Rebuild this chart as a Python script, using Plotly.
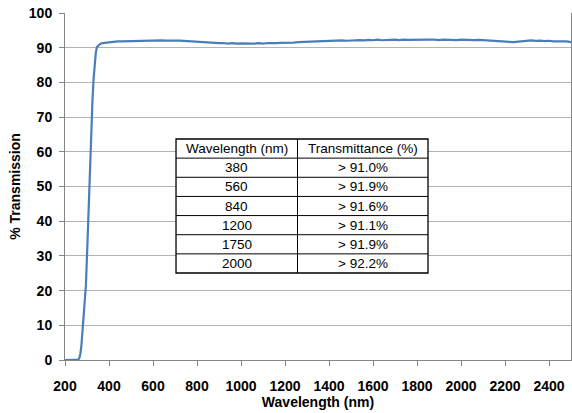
import plotly.graph_objects as go

wavelength = [200, 210, 220, 230, 240, 250, 260, 265, 270, 275, 280, 285, 290, 295, 300,
              305, 310, 315, 320, 325, 330, 335, 340, 345, 350, 355, 360, 370, 380, 400,
              420, 440, 460, 480, 500, 520, 540, 560, 580, 600, 620, 640, 660, 680, 700,
              720, 740, 760, 780, 800, 820, 840, 860, 880, 900, 920, 940, 960, 980, 1000,
              1020, 1040, 1060, 1080, 1100, 1120, 1140, 1160, 1180, 1200, 1220, 1240, 1260,
              1280, 1300, 1320, 1340, 1360, 1380, 1400, 1420, 1440, 1460, 1480, 1500, 1520,
              1540, 1560, 1580, 1600, 1620, 1640, 1660, 1680, 1700, 1720, 1740, 1760, 1780,
              1800, 1820, 1840, 1860, 1880, 1900, 1920, 1940, 1960, 1980, 2000, 2020, 2040,
              2060, 2080, 2100, 2120, 2140, 2160, 2180, 2200, 2220, 2240, 2260, 2280, 2300,
              2320, 2340, 2360, 2380, 2400, 2420, 2440, 2460, 2480, 2500]

transmission = [0.0, 0.0, 0.0, 0.0, 0.0, 0.0, 0.1, 0.5, 1.8, 4.5, 8.5, 13.0, 16.5, 21.5, 30.0,
                40.0, 50.0, 60.0, 68.0, 75.0, 81.0, 85.5, 88.5, 90.2, 90.6, 90.9, 91.1, 91.3, 91.4, 91.6,
                91.7, 91.8, 91.85, 91.9, 91.95, 92.0, 92.0, 92.05, 92.0, 92.1, 92.05, 92.1, 92.05, 92.1, 92.0,
                92.05, 91.95, 91.85, 91.75, 91.65, 91.55, 91.6, 91.4, 91.45, 91.3, 91.35, 91.2, 91.3, 91.15, 91.25,
                91.2, 91.3, 91.15, 91.3, 91.2, 91.35, 91.25, 91.3, 91.4, 91.35, 91.5, 91.45, 91.6,
                91.65, 91.75, 91.8, 91.9, 91.85, 92.0, 91.95, 92.05, 91.95, 92.1, 92.0, 92.1, 92.05,
                92.2, 92.1, 92.25, 92.15, 92.3, 92.15, 92.25, 92.2, 92.3, 92.2, 92.35, 92.25, 92.3,
                92.2, 92.4, 92.25, 92.35, 92.3, 92.2, 92.35, 92.25, 92.3, 92.2, 92.35, 92.25, 92.3,
                92.2, 92.25, 92.15, 92.1, 92.0, 91.85, 91.7, 91.6, 91.55, 91.6, 91.75, 91.9, 92.0,
                92.1, 91.95, 92.05, 91.9, 92.0, 91.85, 91.9, 91.75, 91.8, 91.6]

table_wavelengths = ["380", "560", "840", "1200", "1750", "2000"]
table_transmittance = ["> 91.0%", "> 91.9%", "> 91.6%", "> 91.1%", "> 91.9%", "> 92.2%"]
table_headers = ["Wavelength (nm)", "Transmittance (%)"]

x_ticks = list(range(200, 2501, 200))
y_ticks = list(range(0, 101, 10))

fig = go.Figure()

fig.add_trace(go.Scatter(
    x=wavelength, y=transmission, mode="lines",
    line=dict(color="#4a7ebb", width=2.2),
    showlegend=False, hoverinfo="skip",
))

# Table overlay (paper coordinates of the plotting area)
tx0, tx1, tdiv = 0.2194, 0.7174, 0.4595
ty_top, ty_bot = 0.6369, 0.2507
rows = [table_headers] + [[w, t] for w, t in zip(table_wavelengths, table_transmittance)]
n_rows = len(rows)
row_h = (ty_top - ty_bot) / n_rows

shapes = [dict(type="rect", xref="paper", yref="paper", x0=tx0, x1=tx1, y0=ty_bot, y1=ty_top,
               fillcolor="white", line=dict(color="black", width=1.3), layer="above")]
for i in range(1, n_rows):
    y = ty_top - i * row_h
    shapes.append(dict(type="line", xref="paper", yref="paper", x0=tx0, x1=tx1, y0=y, y1=y,
                       line=dict(color="black", width=1), layer="above"))
shapes.append(dict(type="line", xref="paper", yref="paper", x0=tdiv, x1=tdiv, y0=ty_bot, y1=ty_top,
                   line=dict(color="black", width=1), layer="above"))

annotations = []
table_font = dict(family="Liberation Sans, Arial", size=13.5, color="black")
for i, row in enumerate(rows):
    yc = ty_top - (i + 0.5) * row_h
    for xc, txt in zip([(tx0 + tdiv) / 2, (tdiv + tx1) / 2], row):
        annotations.append(dict(xref="paper", yref="paper", x=xc, y=yc, text=txt,
                                showarrow=False, xanchor="center", yanchor="middle",
                                font=table_font))

tick_font = dict(family="Liberation Sans, Arial", size=14, color="#000000", weight="bold")
title_font = dict(family="Liberation Sans, Arial", size=14, color="#000000", weight="bold")

fig.update_layout(
    width=572, height=413,
    margin=dict(l=65, r=1, t=13, b=53),
    paper_bgcolor="white", plot_bgcolor="white",
    font=dict(family="Liberation Sans, Arial", color="black"),
    shapes=shapes,
    annotations=annotations,
    xaxis=dict(
        range=[200, 2500], tickvals=x_ticks, ticktext=[str(v) for v in x_ticks],
        showgrid=False, zeroline=False, automargin=False,
        showline=True, linecolor="#868686", linewidth=1,
        ticks="outside", ticklen=5, tickcolor="#868686",
        tickfont=tick_font, ticklabelstandoff=8,
        title=dict(text="Wavelength (nm)", font=title_font, standoff=4),
    ),
    yaxis=dict(
        range=[0, 100], tickvals=y_ticks, ticktext=[str(v) for v in y_ticks],
        showgrid=True, gridcolor="#b3b3b3", gridwidth=1, zeroline=False, automargin=False,
        showline=True, linecolor="#868686", linewidth=1, mirror=True,
        ticks="outside", ticklen=5, tickcolor="#868686",
        tickfont=tick_font, ticklabelstandoff=4,
        title=dict(text="% Transmission", font=title_font, standoff=4),
    ),
)

# remove the default 8px page margin so the 572x413 figure fills the window exactly
fig.write_html("out.html", config={"displayModeBar": False},
               post_script="document.body.style.margin='0px';")
